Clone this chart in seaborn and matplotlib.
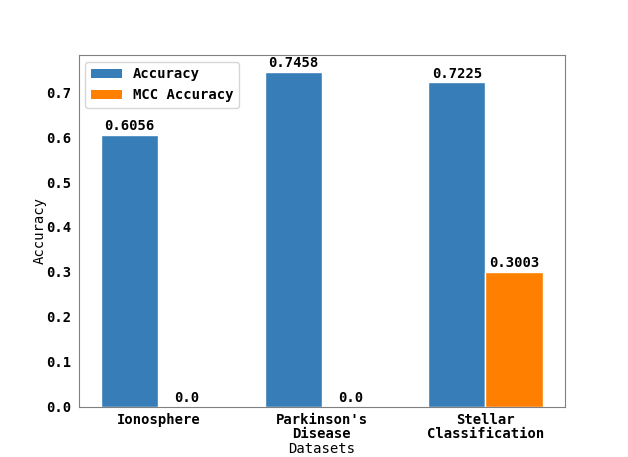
import pandas as pd
import numpy as np
import matplotlib
matplotlib.use("Agg")
import matplotlib.pyplot as plt
from matplotlib.patches import Patch
import seaborn as sns

# values
datasets = ["Ionosphere", "Parkinson's\nDisease", "Stellar\nClassification"]
accuracy = [0.6056, 0.7458, 0.7225]
mcc_accuracy = [0.0, 0.0, 0.3003]
series_names = ["Accuracy", "MCC Accuracy"]
colors = ["#377eb8", "#ff7f00"]

df = pd.DataFrame({
    "Dataset": datasets * 2,
    "Metric": [series_names[0]] * 3 + [series_names[1]] * 3,
    "Value": accuracy + mcc_accuracy,
})

sns.set_style("white")
plt.rcParams["font.family"] = ["DejaVu Sans Mono"]
plt.rcParams["text.color"] = "black"
plt.rcParams["axes.labelcolor"] = "black"
plt.rcParams["xtick.color"] = "black"
plt.rcParams["ytick.color"] = "black"

fig, ax = plt.subplots(figsize=(6.28, 4.57), dpi=100)
sns.barplot(data=df, x="Dataset", y="Value", hue="Metric", order=datasets,
            hue_order=series_names, palette=colors, width=0.7, ax=ax,
            errorbar=None, saturation=1, legend=False)

for container in ax.containers:
    labels = [f"{round(v, 4)}" for v in container.datavalues]
    ax.bar_label(container, labels=labels, fontsize=10, fontweight="bold",
                 padding=1, color="black")

ax.set_xlim(-0.4875, 2.4875)
ax.set_xlabel("Datasets", fontsize=10, labelpad=1)
ax.set_ylabel("Accuracy", fontsize=10, labelpad=0)
ax.tick_params(axis="y", pad=1.5)
ax.tick_params(axis="x", pad=1)
for lab in ax.get_xticklabels() + ax.get_yticklabels():
    lab.set_fontweight("bold")
    lab.set_fontsize(10)
for lab in ax.get_xticklabels():
    lab.set_linespacing(1.0)

for sp in ax.spines.values():
    sp.set_color("0.5")

handles = [Patch(facecolor=c, edgecolor="none", label=n)
           for c, n in zip(colors, series_names)]
ax.legend(handles=handles, loc="upper left", handlelength=2.2,
          prop={"weight": "bold", "size": 10})

plt.subplots_adjust(left=0.125, right=0.9, top=0.88, bottom=0.11)
plt.savefig("out.png", dpi=100)
plt.close()
